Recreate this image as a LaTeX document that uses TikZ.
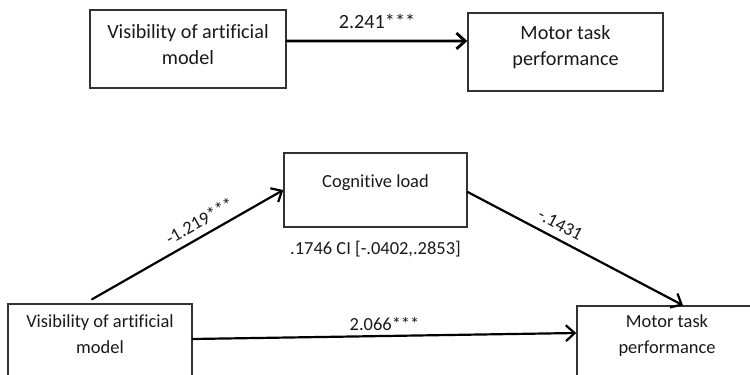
\documentclass[tikz,border=0pt]{standalone}
\usepackage{fontspec}
\setmainfont{Carlito}[Ligatures=NoCommon]
\usetikzlibrary{arrows.meta}
\begin{document}
\begin{tikzpicture}[x=0.02cm,y=-0.02cm,line cap=round,>={Straight Barb[length=5pt,width=9pt]},
	box/.style={draw=black!80,line width=0.8pt,inner sep=0pt},
	txt/.style={align=center,inner sep=0pt,text=black!90,font=\fontsize{10.5}{14.7}\selectfont},
	big/.style={font=\fontsize{11.5}{14.7}\selectfont},
	conn/.style={->,line width=1.25pt},
	lbl/.style={inner sep=0pt,text=black!90,font=\fontsize{10.5}{12}\selectfont}]
	\useasboundingbox (0,0) rectangle (750,375);
	% direct effect
	\node[box,minimum width=3.92cm,minimum height=1.56cm] (vis1) at (188,49) {};
	\node[box,minimum width=3.9cm,minimum height=1.56cm] (mot1) at (565.5,52) {};
	\node[txt,big] (vis1t) at ([yshift=-0.7cm]vis1.north) {Visibility of artificial\\model};
	\node[txt,big] (mot1t) at ([yshift=-0.69cm]mot1.north) {Motor task\\performance};
	\draw[conn,line width=1.6pt] ([yshift=0.16cm]vis1.east) -- ([yshift=0.22cm]mot1.west) node[lbl,big,midway,above=6.5pt] {2.241***};
	% mediation
	\node[box,minimum width=3.66cm,minimum height=1.48cm] (cog) at (375.5,190) {};
	\node[box,minimum width=3.68cm,minimum height=1.56cm] (vis2) at (100,343) {};
	\node[box,minimum width=3.6cm,minimum height=1.56cm] (mot2) at (667,345) {};
	\node[txt] (cogt) at ([yshift=-0.6cm]cog.north) {Cognitive load};
	\node[txt] (vis2t) at ([yshift=-0.62cm]vis2.north) {Visibility of artificial\\model};
	\node[txt] (mot2t) at ([yshift=-0.6cm]mot2.north) {Motor task\\performance};
	\node[lbl] (ci) at ([yshift=-0.42cm]cog.south) {.1746 CI [-.0402,.2853]};
	\draw[conn] ([xshift=-0.16cm,yshift=0.08cm]vis2.north) -- (cog.west) node[lbl,pos=0.6,sloped,above=4pt] {-1.219***};
	\draw[conn] ([yshift=-0.04cm]cog.east) -- ([xshift=0.32cm]mot2.north) node[lbl,pos=0.4,sloped,above=4pt] {-.1431};
	\draw[conn] ([yshift=0.08cm]vis2.east) -- ([yshift=0.24cm]mot2.west) node[lbl,midway,above=2.5pt] {2.066***};
\end{tikzpicture}
\end{document}
